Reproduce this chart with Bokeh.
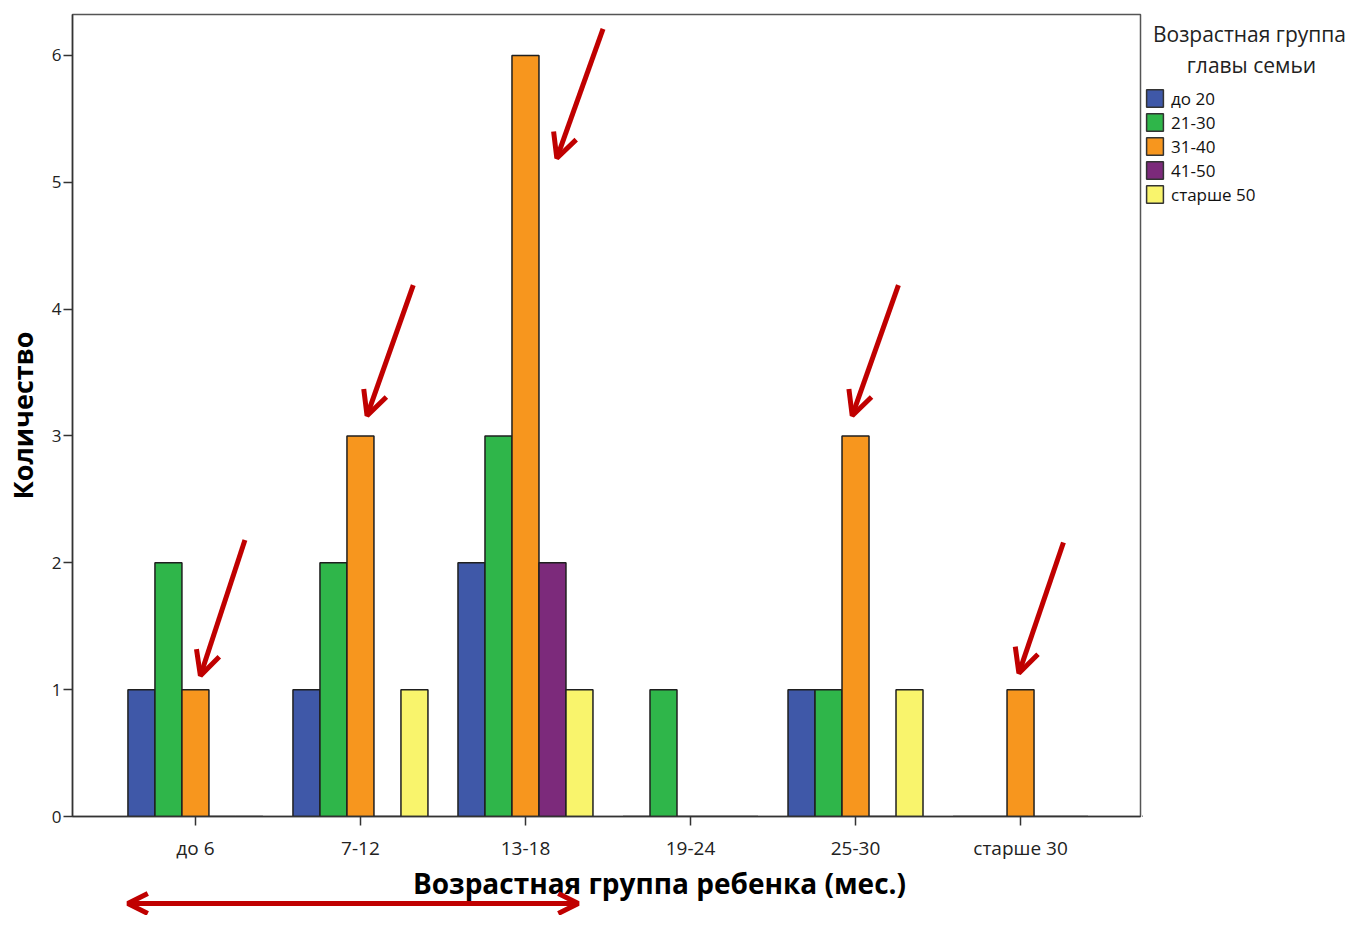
from bokeh.plotting import figure
from bokeh.models import (ColumnDataSource, FixedTicker, Legend, LegendItem,
                          Arrow, OpenHead, Label, Range1d)
from bokeh.layouts import row, column
from bokeh.embed import file_html
from bokeh.resources import INLINE

# ---- data ----
child_age = ["до 6", "7-12", "13-18", "19-24", "25-30", "старше 30"]
head_age = ["до 20", "21-30", "31-40", "41-50", "старше 50"]
counts_do20 = [1, 1, 2, 0, 1, 0]
counts_21_30 = [2, 2, 3, 1, 1, 0]
counts_31_40 = [1, 3, 6, 0, 3, 1]
counts_41_50 = [0, 0, 2, 0, 0, 0]
counts_50plus = [0, 1, 1, 0, 1, 0]
series = [counts_do20, counts_21_30, counts_31_40, counts_41_50, counts_50plus]
colors = ["#3F58A8", "#2FB64A", "#F7961E", "#7C2A7B", "#F9F46C"]

x_title = "Возрастная группа ребенка (мес.)"
y_title = "Количество"
legend_title = ["Возрастная группа", "главы семьи"]

# annotation arrows (data coordinates): x_start, y_start, x_end, y_end
arrow_x0 = [1.30, 2.32, 3.47, 5.26, 6.26]
arrow_y0 = [2.18, 4.19, 6.21, 4.19, 2.16]
arrow_x1 = [1.03, 2.04, 3.19, 4.98, 5.99]
arrow_y1 = [1.11, 3.16, 5.19, 3.16, 1.13]
span_x = [0.59, 3.32]

FONT = "Open Sans"
RED = "#C00000"
MAIN_W, MAIN_H = 1142, 863
TOTAL_W, TOTAL_H = 1348, 915
FRAME_TOP, FRAME_BOTTOM = 14, 816

p = figure(width=MAIN_W, height=MAIN_H, output_backend="svg", toolbar_location=None,
           title=None,
           x_range=Range1d(0.255, 6.727), y_range=Range1d(0, 6.323),
           min_border_left=72, min_border_top=FRAME_TOP, min_border_right=2,
           min_border_bottom=MAIN_H - FRAME_BOTTOM)
p.xgrid.visible = False
p.ygrid.visible = False
p.outline_line_color = "#555555"
p.outline_line_width = 1.5

bw = 0.1636
renderers = []
xs = list(range(1, len(child_age) + 1))
for i, (vals, col) in enumerate(zip(series, colors)):
    src = ColumnDataSource(dict(x=[x + (i - 2) * bw for x in xs], top=vals))
    r = p.vbar(x="x", top="top", width=bw, bottom=0, source=src,
               fill_color=col, line_color="#1f1f1f", line_width=1.5)
    renderers.append(r)

p.xaxis.ticker = FixedTicker(ticks=xs)
p.xaxis.major_label_overrides = {x: lab for x, lab in zip(xs, child_age)}
p.yaxis.ticker = FixedTicker(ticks=[0, 1, 2, 3, 4, 5, 6])
for ax in (p.xaxis[0], p.yaxis[0]):
    ax.axis_line_color = "#333333"
    ax.axis_line_width = 1.5
    ax.major_tick_line_color = "#333333"
    ax.major_tick_line_width = 1.5
    ax.minor_tick_line_color = None
    ax.major_tick_in = 0
    ax.major_tick_out = 9
    ax.major_label_text_font = FONT
    ax.major_label_text_color = "#222222"

p.xaxis.major_label_standoff = 9
p.xaxis.major_label_text_font_size = "19px"

p.yaxis.major_label_standoff = 2
p.yaxis.major_label_text_font_size = "17px"
p.yaxis.axis_label = y_title
p.yaxis.axis_label_text_font = FONT
p.yaxis.axis_label_text_font_style = "bold"
p.yaxis.axis_label_text_font_size = "27px"
p.yaxis.axis_label_text_color = "#000000"
p.yaxis.axis_label_standoff = 8

# red arrows inside plot
for xa, ya, xb, yb in zip(arrow_x0, arrow_y0, arrow_x1, arrow_y1):
    p.add_layout(Arrow(x_start=xa, y_start=ya, x_end=xb, y_end=yb,
                       line_color=RED, line_width=5,
                       end=OpenHead(size=24, line_color=RED, line_width=5)))

# ---- legend panel (its frame is aligned with the main frame; units = px above frame bottom) ----
leg_w = TOTAL_W - MAIN_W
frame_h = FRAME_BOTTOM - FRAME_TOP
lg = figure(width=leg_w, height=MAIN_H, output_backend="svg", toolbar_location=None,
            title=None,
            x_range=Range1d(0, leg_w), y_range=Range1d(0, frame_h),
            min_border_left=0, min_border_right=0, min_border_top=FRAME_TOP,
            min_border_bottom=MAIN_H - FRAME_BOTTOM,
            x_axis_location=None, y_axis_location=None)
lg.grid.visible = False
lg.outline_line_color = None
dummy = []
for col in colors:
    dummy.append(lg.vbar(x=[-1000], top=[0], width=1, fill_color=col,
                         line_color="#333333", line_width=1.5))
leg_h = 5 * 23 + 4 * 1
legend = Legend(items=[LegendItem(label=lab, renderers=[r]) for lab, r in zip(head_age, dummy)],
                location=(2, FRAME_BOTTOM - 86.5 - leg_h), padding=0, margin=0, spacing=1,
                glyph_width=21, glyph_height=22, label_height=17, label_standoff=6,
                label_text_font=FONT, label_text_font_size="17px",
                label_text_color="#111111", label_text_baseline="middle",
                border_line_alpha=0, background_fill_alpha=0)
lg.add_layout(legend, "center")
for txt, xx, yy in ((legend_title[0], 1249 - MAIN_W, 33), (legend_title[1], 1251 - MAIN_W, 64)):
    lg.add_layout(Label(x=xx, y=FRAME_BOTTOM - yy, text=txt, text_align="center",
                        text_baseline="middle", text_font=FONT,
                        text_font_size="21px", text_color="#222222"))

# ---- bottom strip: x title + double arrow ----
bot_h = TOTAL_H - MAIN_H
bt = figure(width=MAIN_W, height=bot_h, output_backend="svg", toolbar_location=None,
            title=None,
            x_range=p.x_range, y_range=Range1d(0, bot_h),
            min_border_left=72, min_border_right=2, min_border_top=0, min_border_bottom=0,
            x_axis_location=None, y_axis_location=None)
bt.grid.visible = False
bt.outline_line_color = None
bt.add_layout(Label(x=(1 + (659 - 195) / 165), y=TOTAL_H - 882, text=x_title,
                    text_align="center", text_baseline="middle", text_font=FONT,
                    text_font_style="bold", text_font_size="28px", text_color="#000000"))
bt.add_layout(Arrow(x_start=span_x[0], y_start=12, x_end=span_x[1], y_end=12,
                    line_color=RED, line_width=5,
                    start=OpenHead(size=20, line_color=RED, line_width=5),
                    end=OpenHead(size=20, line_color=RED, line_width=5)))

layout = column(row(p, lg), bt)
open("out.html", "w").write(file_html(layout, INLINE))
